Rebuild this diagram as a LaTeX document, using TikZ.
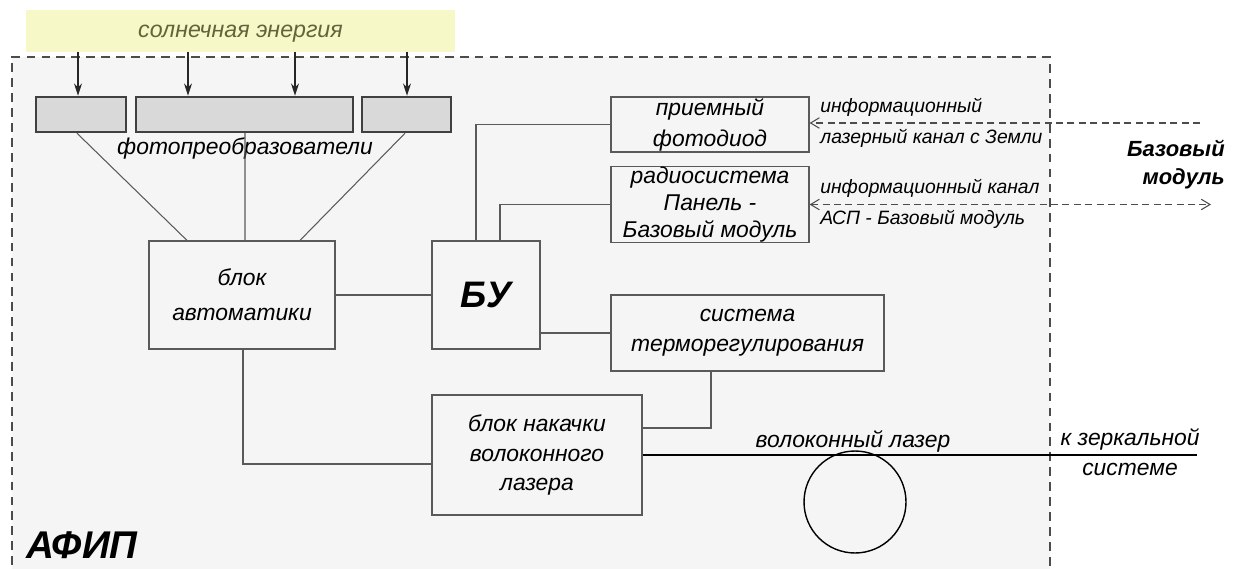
\documentclass[tikz,border=0pt]{standalone}
\usepackage{fontspec}
\setmainfont{Liberation Sans}
\usetikzlibrary{arrows.meta,calc}
\definecolor{sunyellow}{RGB}{246,248,200}
\definecolor{suntext}{RGB}{100,100,60}
\definecolor{framefill}{RGB}{245,245,245}
\definecolor{panelfill}{RGB}{217,217,217}
\definecolor{boxline}{RGB}{90,90,90}
\tikzset{
  blk/.style={draw=boxline, line width=0.7pt, fill=framefill, inner sep=0pt, align=center,
              font=\itshape\fontsize{13}{17}\selectfont},
  panel/.style={draw=black!75, line width=1.4pt, fill=panelfill, inner sep=0pt, minimum height=0.7cm},
  wire/.style={draw=boxline, line width=0.6pt},
  sunarrow/.style={draw=black!85, line width=0.9pt, -{Stealth[length=7pt,width=4.5pt]}},
  infoarrow/.style={draw=black!70, line width=0.6pt, dashed, dash pattern=on 4pt off 2.5pt},
  lbl/.style={inner sep=0pt, font=\itshape\fontsize{11}{17.6}\selectfont, align=left},
  big/.style={inner sep=0pt, font=\bfseries\itshape\fontsize{22}{24}\selectfont}
}
\begin{document}
\begin{tikzpicture}[x=0.02cm,y=-0.02cm]
\useasboundingbox (0,0) rectangle (1243,568);
% frame
\fill[framefill] (12,57) rectangle (1050,580);
\draw[black!70, line width=0.7pt, dash pattern=on 5pt off 3.5pt] (12,580) -- (12,57) -- (1050,57) -- (1050,580);
% sun band
\node[fill=sunyellow, minimum width=8.58cm, minimum height=0.84cm, inner sep=0pt, text depth=0pt,
      font=\itshape\fontsize{13.2}{15}\selectfont, text=suntext] (sun) at (240.5,31) {солнечная энергия};
% panels
\node[panel, minimum width=1.8cm] (pan1) at (81,114.5) {};
\node[panel, minimum width=4.34cm] (pan2) at (244.5,114.5) {};
\node[panel, minimum width=1.78cm] (pan3) at (406.5,114.5) {};
\coordinate (a1) at (78,0);
\coordinate (a2) at (188,0);
\coordinate (a3) at (295,0);
\coordinate (a4) at (407,0);
\draw[sunarrow] (sun.south -| a1) -- (pan1.north -| a1);
\draw[sunarrow] (sun.south -| a2) -- (pan2.north -| a2);
\draw[sunarrow] (sun.south -| a3) -- (pan2.north -| a3);
\draw[sunarrow] (sun.south -| a4) -- (pan3.north -| a4);
% blocks
\node[blk, minimum width=3.72cm, minimum height=2.16cm, font=\itshape\fontsize{13}{20}\selectfont] (auto) at (242,295) {блок\\автоматики};
\node[blk, minimum width=2.16cm, minimum height=2.16cm] (bu) at (486,295) {\bfseries\fontsize{21}{24}\selectfont БУ};
\node[blk, minimum width=3.96cm, minimum height=1.1cm, font=\itshape\fontsize{13}{17.6}\selectfont] (pd) at (710,124.5) {приемный\\фотодиод};
\node[blk, minimum width=3.96cm, minimum height=1.5cm, font=\itshape\fontsize{13}{15.6}\selectfont] (radio) at (710,204.5) {радиосистема\\Панель -\\Базовый модуль};
\node[blk, minimum width=5.46cm, minimum height=1.52cm] (thermo) at (747.5,333) {система\\терморегулирования};
\node[blk, minimum width=4.2cm, minimum height=2.4cm] (pump) at (537,455) {блок накачки\\волоконного\\лазера};
% label
\node[inner sep=0pt, font=\itshape\fontsize{13}{17}\selectfont] (fpl) at (245,148) {фотопреобразователи};
% panel wires
\draw[wire] ([xshift=-0.08cm]pan1.south) -- ([xshift=-1.1cm]auto.north);
\draw[wire] (pan2.south -| 245,0) -- ([xshift=0.06cm]auto.north);
\draw[wire] ([xshift=-0.03cm]pan3.south) -- ([xshift=1.16cm]auto.north);
% block wires
\draw[wire] (auto.east) -- (bu.west);
\draw[wire] ([xshift=-0.2cm]bu.north) |- (pd.west);
\draw[wire] ([xshift=0.28cm]bu.north) |- (radio.west);
\draw[wire] (bu.east |- thermo.west) -- (thermo.west);
\draw[wire] ([xshift=-0.73cm]thermo.south) |- ([yshift=0.54cm]pump.east);
\draw[wire] ([xshift=0.02cm]auto.south) |- ([yshift=-0.18cm]pump.west);
% fiber laser
\coordinate (fend) at (1197,455);
\draw[black, line width=1.3pt] (pump.east) -- (fend);
\node[draw=black, line width=0.8pt, circle, minimum size=2.04cm, inner sep=0pt] (coil) at (855,502) {};
\node[inner sep=0pt, font=\itshape\fontsize{13}{17}\selectfont] (fl) at (853,441) {волоконный лазер};
\node[inner sep=0pt, font=\itshape\fontsize{13}{17}\selectfont, align=center] (mir) at (1130,452) {к зеркальной\\системе};
% info channels
\coordinate (e1) at (1200,123);
\coordinate (e2) at (1211,204.5);
\draw[infoarrow, -{Straight Barb[length=5pt,width=6pt]}] (e1) -- (pd.east |- e1);
\draw[infoarrow, {Straight Barb[length=5pt,width=6pt]}-{Straight Barb[length=5pt,width=6pt]}] (radio.east) -- (e2);
\node[lbl, anchor=west] (l1) at (820,122.5) {информационный\\лазерный канал с Земли};
\node[lbl, anchor=west] (l2) at (820,203.5) {информационный канал\\АСП - Базовый модуль};
% titles
\node[big, anchor=west] (afip) at (26,545) {АФИП};
\node[inner sep=0pt, font=\bfseries\itshape\fontsize{12.5}{16}\selectfont, align=right, anchor=east] (bm) at (1225,165) {Базовый\\модуль};
\end{tikzpicture}
\end{document}
